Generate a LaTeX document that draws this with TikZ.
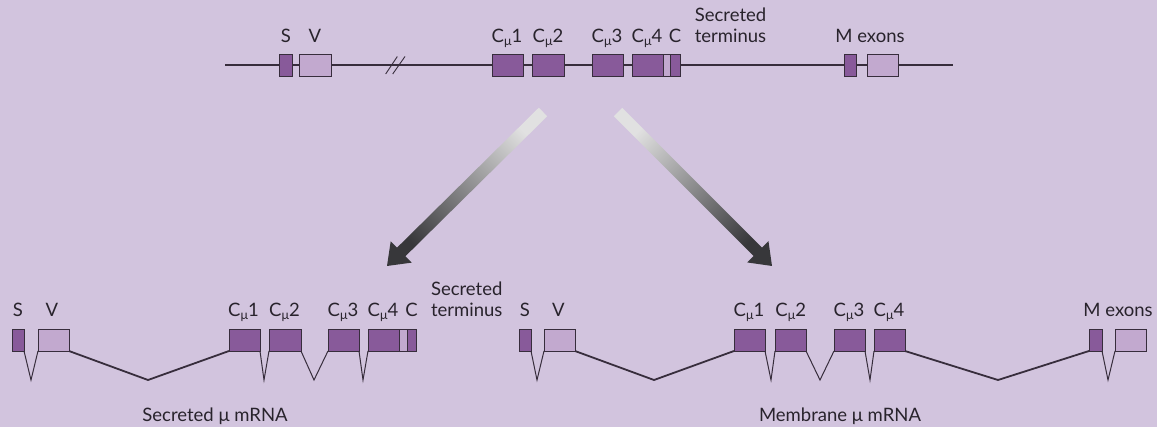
\documentclass[tikz,border=0pt]{standalone}
\usepackage{fontspec}
\setmainfont{Lato}
\usetikzlibrary{calc}
\definecolor{bgc}{RGB}{210,196,222}
\definecolor{dpurp}{RGB}{136,90,154}
\definecolor{lpurp}{RGB}{194,169,207}
\definecolor{outl}{RGB}{55,45,60}
\definecolor{txtc}{RGB}{40,35,44}
\definecolor{arrlight}{RGB}{225,225,225}
\definecolor{arrdark}{RGB}{55,55,58}
\newcommand{\Cm}[1]{C\raisebox{-0.3ex}{\fontsize{12.5}{12.5}\selectfont μ}#1}
\tikzset{
  exonbox/.style={draw=outl, line width=0.9pt, inner sep=0pt, outer sep=0pt, anchor=north west, minimum height=22pt},
  dexon/.style={exonbox, fill=dpurp},
  lexon/.style={exonbox, fill=lpurp},
  lbl/.style={anchor=base, inner sep=0pt, text=txtc, font=\fontsize{18.5}{21}\selectfont},
  gline/.style={draw=outl, line width=1.4pt},
  thinsp/.style={draw=outl, line width=1.0pt, line join=miter},
  longsp/.style={draw=outl, line width=1.8pt, line join=miter},
  bigarrow/.style={top color=arrlight, bottom color=arrdark}
}
\begin{document}
\begin{tikzpicture}[x=1pt,y=-1pt]
\fill[bgc] (0,0) rectangle (1157,427);
\useasboundingbox (0,0) rectangle (1157,427);

% ---------- top gene ----------
\coordinate (tL) at (225,65);
\coordinate (tR) at (953,65);
\draw[gline] (tL) -- (tR);
\node[dexon, minimum width=13pt] (tS) at (279,54) {};
\node[lexon, minimum width=32pt] (tV) at (299,54) {};
\node[dexon, minimum width=31pt] (t1) at (492,54) {};
\node[dexon, minimum width=32pt] (t2) at (532,54) {};
\node[dexon, minimum width=31pt] (t3) at (592,54) {};
\node[dexon, minimum width=31pt] (t4) at (632,54) {};
\node[lexon, minimum width=7pt] (tCl) at (663,54) {};
\node[dexon, minimum width=10pt] (tCd) at (670,54) {};
\node[dexon, minimum width=12pt] (tMd) at (844,54) {};
\node[lexon, minimum width=31pt] (tMl) at (867,54) {};
% break marks
\coordinate (bk1a) at (385.7,74); \coordinate (bk1b) at (397.3,56.5);
\coordinate (bk2a) at (392.7,74); \coordinate (bk2b) at (405,56.5);
\draw[draw=outl, line width=0.9pt] (bk1a) -- (bk1b);
\draw[draw=outl, line width=0.9pt] (bk2a) -- (bk2b);

\node[lbl] (ltS) at (286,42.7) {S};
\node[lbl] (ltV) at (315,42.7) {V};
\node[lbl] (lt1) at (507,42.7) {\Cm{1}};
\node[lbl] (lt2) at (548,42.7) {\Cm{2}};
\node[lbl] (lt3) at (607,42.7) {\Cm{3}};
\node[lbl] (lt4) at (647,42.7) {\Cm{4}};
\node[lbl] (ltC) at (675,42.7) {C};
\node[lbl] (ltSec) at (730.5,21.7) {Secreted};
\node[lbl] (ltTer) at (730.5,42.7) {terminus};
\node[lbl] (ltM) at (870,42.7) {M exons};

% ---------- arrows ----------
\coordinate (aLS) at (543,112); \coordinate (aLT) at (387,266);
\coordinate (aLB) at ($(aLT)!20pt!(aLS)$);
\shade[bigarrow, shading angle=-45]
  ($(aLS)!6pt!90:(aLT)$) -- ($(aLB)!6pt!-90:(aLS)$) -- ($(aLB)!15pt!-90:(aLS)$)
  -- (aLT) -- ($(aLB)!15pt!90:(aLS)$) -- ($(aLB)!6pt!90:(aLS)$)
  -- ($(aLS)!6pt!-90:(aLT)$) -- cycle;
\coordinate (aRS) at (618,112); \coordinate (aRT) at (772,266);
\coordinate (aRB) at ($(aRT)!20pt!(aRS)$);
\shade[bigarrow, shading angle=45]
  ($(aRS)!6pt!90:(aRT)$) -- ($(aRB)!6pt!-90:(aRS)$) -- ($(aRB)!15pt!-90:(aRS)$)
  -- (aRT) -- ($(aRB)!15pt!90:(aRS)$) -- ($(aRB)!6pt!90:(aRS)$)
  -- ($(aRS)!6pt!-90:(aRT)$) -- cycle;

% ---------- secreted mRNA ----------
\node[dexon, minimum width=12pt] (bS) at (12,329) {};
\node[lexon, minimum width=31pt] (bV) at (38,329) {};
\node[dexon, minimum width=31pt] (b1) at (229,329) {};
\node[dexon, minimum width=32pt] (b2) at (269,329) {};
\node[dexon, minimum width=31pt] (b3) at (328,329) {};
\node[dexon, minimum width=31pt] (b4) at (368,329) {};
\node[lexon, minimum width=8pt] (bCl) at (399,329) {};
\node[dexon, minimum width=9pt] (bCd) at (407,329) {};
\coordinate (bj1) at (31,380);
\coordinate (bj2) at (148,380);
\coordinate (bj3) at (264,380);
\coordinate (bj4) at (314,380);
\coordinate (bj5) at (363,380);
\draw[thinsp] (bS.south east) -- (bj1) -- (bV.south west);
\draw[longsp] (bV.south east) -- (bj2) -- (b1.south west);
\draw[thinsp] (b1.south east) -- (bj3) -- (b2.south west);
\draw[thinsp] (b2.south east) -- (bj4) -- (b3.south west);
\draw[thinsp] (b3.south east) -- (bj5) -- (b4.south west);

\node[lbl] (lbS) at (18,317) {S};
\node[lbl] (lbV) at (52,317) {V};
\node[lbl] (lb1) at (243.5,317) {\Cm{1}};
\node[lbl] (lb2) at (284.5,317) {\Cm{2}};
\node[lbl] (lb3) at (343,317) {\Cm{3}};
\node[lbl] (lb4) at (383,317) {\Cm{4}};
\node[lbl] (lbC) at (411.5,317) {C};
\node[lbl] (lbSec) at (466.7,296) {Secreted};
\node[lbl] (lbTer) at (466.7,317) {terminus};
\node[lbl] (lbTitle) at (215,421.5) {Secreted μ mRNA};

% ---------- membrane mRNA ----------
\node[dexon, minimum width=12pt] (rS) at (519,329) {};
\node[lexon, minimum width=31pt] (rV) at (544,329) {};
\node[dexon, minimum width=31pt] (r1) at (734,329) {};
\node[dexon, minimum width=31pt] (r2) at (775,329) {};
\node[dexon, minimum width=31pt] (r3) at (834,329) {};
\node[dexon, minimum width=31pt] (r4) at (874,329) {};
\node[dexon, minimum width=13pt] (rMd) at (1089,329) {};
\node[lexon, minimum width=31pt] (rMl) at (1115,329) {};
\coordinate (rj1) at (537,380);
\coordinate (rj2) at (654,380);
\coordinate (rj3) at (771,380);
\coordinate (rj4) at (820,380);
\coordinate (rj5) at (870,380);
\coordinate (rj6) at (998,380);
\coordinate (rj7) at (1108,380);
\draw[thinsp] (rS.south east) -- (rj1) -- (rV.south west);
\draw[longsp] (rV.south east) -- (rj2) -- (r1.south west);
\draw[thinsp] (r1.south east) -- (rj3) -- (r2.south west);
\draw[thinsp] (r2.south east) -- (rj4) -- (r3.south west);
\draw[thinsp] (r3.south east) -- (rj5) -- (r4.south west);
\draw[longsp] (r4.south east) -- (rj6) -- (rMd.south west);
\draw[thinsp] (rMd.south east) -- (rj7) -- (rMl.south west);

\node[lbl] (lrS) at (525,317) {S};
\node[lbl] (lrV) at (558.5,317) {V};
\node[lbl] (lr1) at (749,317) {\Cm{1}};
\node[lbl] (lr2) at (790.7,317) {\Cm{2}};
\node[lbl] (lr3) at (849,317) {\Cm{3}};
\node[lbl] (lr4) at (889,317) {\Cm{4}};
\node[lbl] (lrM) at (1118,317) {M exons};
\node[lbl] (lrTitle) at (840,421.5) {Membrane μ mRNA};
\end{tikzpicture}
\end{document}
